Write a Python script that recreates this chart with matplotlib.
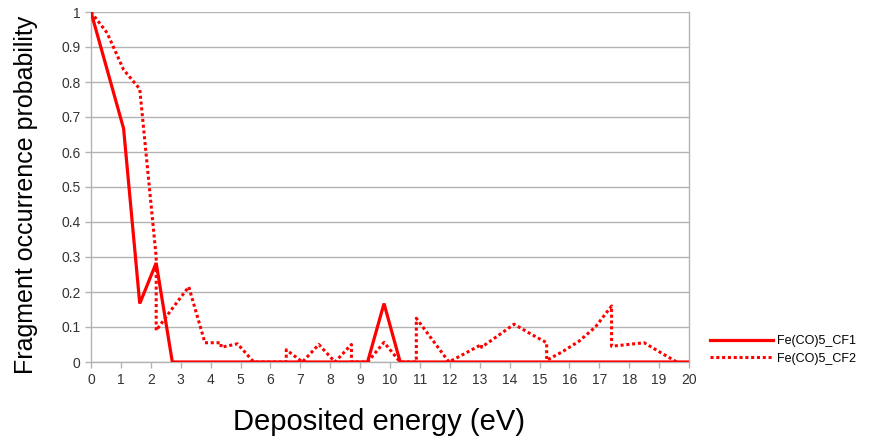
import numpy as np
import matplotlib
matplotlib.use("Agg")
import matplotlib.pyplot as plt

plt.rcParams['font.family'] = ['Liberation Sans', 'DejaVu Sans']

# Fe(CO)5_CF1 (solid)
cf1_energy = [0.00, 1.09, 1.63, 2.18, 2.72, 9.25, 9.80, 10.34, 20.13]
cf1_prob = [1.00, 0.667, 0.167, 0.283, 0.0, 0.0, 0.167, 0.0, 0.0]

# Fe(CO)5_CF2 (dotted) - repeated energies give the vertical jumps
cf2_energy = [0.00, 0.54, 1.09, 1.63, 2.18, 2.18, 2.72, 3.27, 3.81, 4.35, 4.35,
              4.90, 5.44, 5.99, 6.53, 6.53, 7.07, 7.62, 8.16, 8.71, 8.71,
              9.25, 9.80, 10.34, 10.88, 10.88, 11.43, 11.97, 12.52, 13.06, 13.06,
              13.61, 14.15, 14.69, 15.24, 15.24, 15.78, 16.33, 16.87, 17.41, 17.41,
              17.96, 18.50, 19.05, 19.59]
cf2_prob = [1.00, 0.94, 0.835, 0.78, 0.30, 0.09, 0.153, 0.215, 0.055, 0.055, 0.042,
            0.052, 0.0, 0.0, 0.0, 0.035, 0.0, 0.05, 0.0, 0.05, 0.0,
            0.0, 0.056, 0.0, 0.0, 0.125, 0.062, 0.0, 0.025, 0.05, 0.042,
            0.075, 0.108, 0.081, 0.055, 0.005, 0.03, 0.06, 0.10, 0.16, 0.045,
            0.05, 0.055, 0.027, 0.0]

x_ticks = list(range(0, 21))
y_ticks = [0, 0.1, 0.2, 0.3, 0.4, 0.5, 0.6, 0.7, 0.8, 0.9, 1]
y_labels = ['0', '0.1', '0.2', '0.3', '0.4', '0.5', '0.6', '0.7', '0.8', '0.9', '1']

fig = plt.figure(figsize=(8.69, 4.43), dpi=100)
ax = fig.add_axes([91 / 869, 1 - 362 / 443, 598 / 869, 350 / 443])

grey = '#b3b3b3'
ax.plot(cf1_energy, cf1_prob, color='#ff0000', lw=2.3, label='Fe(CO)5_CF1',
        solid_joinstyle='miter', zorder=3)
ax.plot(cf2_energy, cf2_prob, color='#ff0000', lw=2.2, linestyle=(0, (1, 0.9)),
        label='Fe(CO)5_CF2', zorder=3)

ax.set_xlim(0, 20)
ax.set_ylim(0, 1)
ax.set_xticks(x_ticks)
ax.set_yticks(y_ticks)
ax.set_yticklabels(y_labels)
ax.yaxis.grid(True, color=grey, lw=1)
ax.set_axisbelow(True)
for side in ['left', 'right', 'bottom']:
    ax.spines[side].set_color(grey)
    ax.spines[side].set_linewidth(1)
ax.spines['top'].set_visible(False)
ax.tick_params(axis='both', colors=grey, length=4, width=1, labelcolor='#333333',
               labelsize=10)
ax.tick_params(axis='x', pad=4)

ax.set_xlabel('Deposited energy (eV)', fontsize=21, va='center')
ax.xaxis.set_label_coords(288 / 598, -60 / 350)
ax.set_ylabel('Fragment occurrence probability', fontsize=18, va='center')
ax.yaxis.set_label_coords(-65 / 598, 167 / 350)

ax.legend(loc='center left', bbox_to_anchor=(710 / 869, 1 - 350 / 443),
          bbox_transform=fig.transFigure, frameon=False, borderpad=0,
          borderaxespad=0, fontsize=9, handlelength=5, handletextpad=0.4,
          labelspacing=0.45)

fig.savefig('out.png', dpi=100)
